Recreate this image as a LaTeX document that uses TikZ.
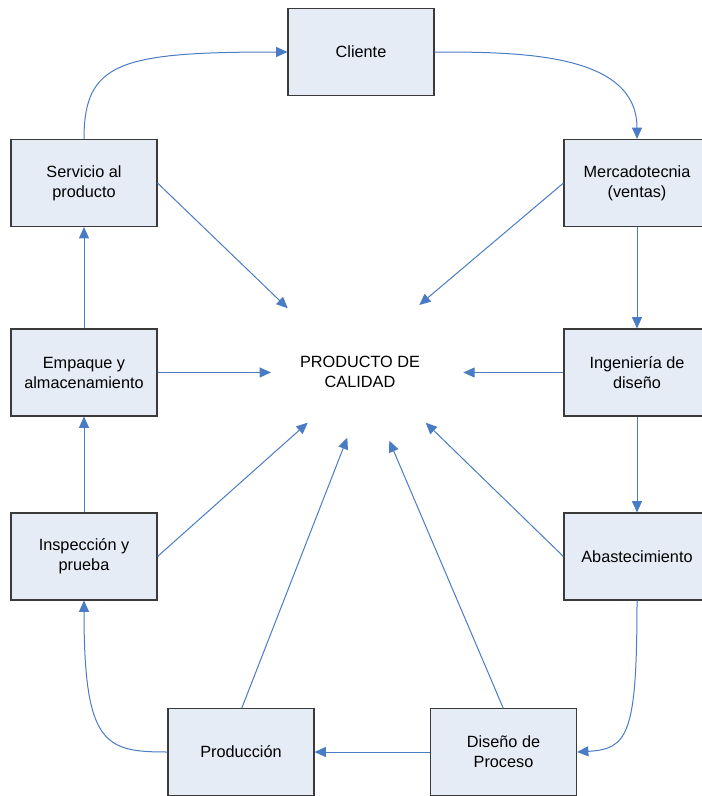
\documentclass[tikz,border=0pt]{standalone}
\usepackage{fontspec}
\setmainfont{Liberation Sans}
\usetikzlibrary{arrows.meta}
\definecolor{boxfill}{HTML}{E6ECF6}
\definecolor{boxline}{HTML}{3A3A3A}
\definecolor{arrowblue}{HTML}{4A7CC4}
\begin{document}
\begin{tikzpicture}[x=0.75pt,y=-0.75pt,
  stagebox/.style={draw=boxline,fill=boxfill,line width=0.8pt,
    minimum width=109.5pt,minimum height=65.25pt,inner sep=0pt,
    align=center,font=\fontsize{12.2}{15}\selectfont},
  flow/.style={draw=arrowblue,line width=0.75pt,
    -{Triangle[length=8.5pt,width=7.5pt]}}]
\useasboundingbox (0,0) rectangle (701,796);
\node[stagebox] (cli) at (361,52) {Cliente};
\node[stagebox] (mer) at (637,183) {Mercadotecnia\\(ventas)};
\node[stagebox] (ing) at (637,372.5) {Ingeniería de\\diseño};
\node[stagebox] (aba) at (637,556.5) {Abastecimiento};
\node[stagebox] (dis) at (503.5,752) {Diseño de\\Proceso};
\node[stagebox] (pro) at (241,752) {Producción};
\node[stagebox] (ins) at (84,556.5) {Inspección y\\prueba};
\node[stagebox] (emp) at (84,372.5) {Empaque y\\almacenamiento};
\node[stagebox] (ser) at (84,183) {Servicio al\\producto};
\node[align=center,font=\fontsize{12.2}{15}\selectfont,inner sep=0pt] (pc) at (360,372) {PRODUCTO DE\\CALIDAD};
% radial arrow ends
\coordinate (tser) at (287.7,308.3);
\coordinate (tmer) at (419.3,305);
\coordinate (temp) at (271,372.5);
\coordinate (ting) at (463.3,372.5);
\coordinate (tins) at (307.7,422.7);
\coordinate (tpro) at (347.3,437.7);
\coordinate (tdis) at (389.3,440.7);
\coordinate (taba) at (425.7,422.7);
\coordinate (spro) at (241.7,708.3);
\coordinate (sdis) at (503.3,708.3);
% cycle
\draw[flow] (ser.north) .. controls (84,62) and (120,52) .. (cli.west);
\draw[flow] (cli.east) to[out=0,in=90] (mer.north);
\draw[flow] (mer.south) -- (ing.north);
\draw[flow] (ing.south) -- (aba.north);
\draw[flow] (aba.south) .. controls (637,735) and (628,749) .. (dis.east);
\draw[flow] (dis.west) -- (pro.east);
\draw[flow] (pro.west) .. controls (105,752) and (84,745) .. (ins.south);
\draw[flow] (ins.north) -- (emp.south);
\draw[flow] (emp.north) -- (ser.south);
% to product
\draw[flow] (ser.east) -- (tser);
\draw[flow] (mer.west) -- (tmer);
\draw[flow] (emp.east) -- (temp);
\draw[flow] (ing.west) -- (ting);
\draw[flow] (ins.east) -- (tins);
\draw[flow] (spro) -- (tpro);
\draw[flow] (sdis) -- (tdis);
\draw[flow] (aba.west) -- (taba);
\end{tikzpicture}
\end{document}
